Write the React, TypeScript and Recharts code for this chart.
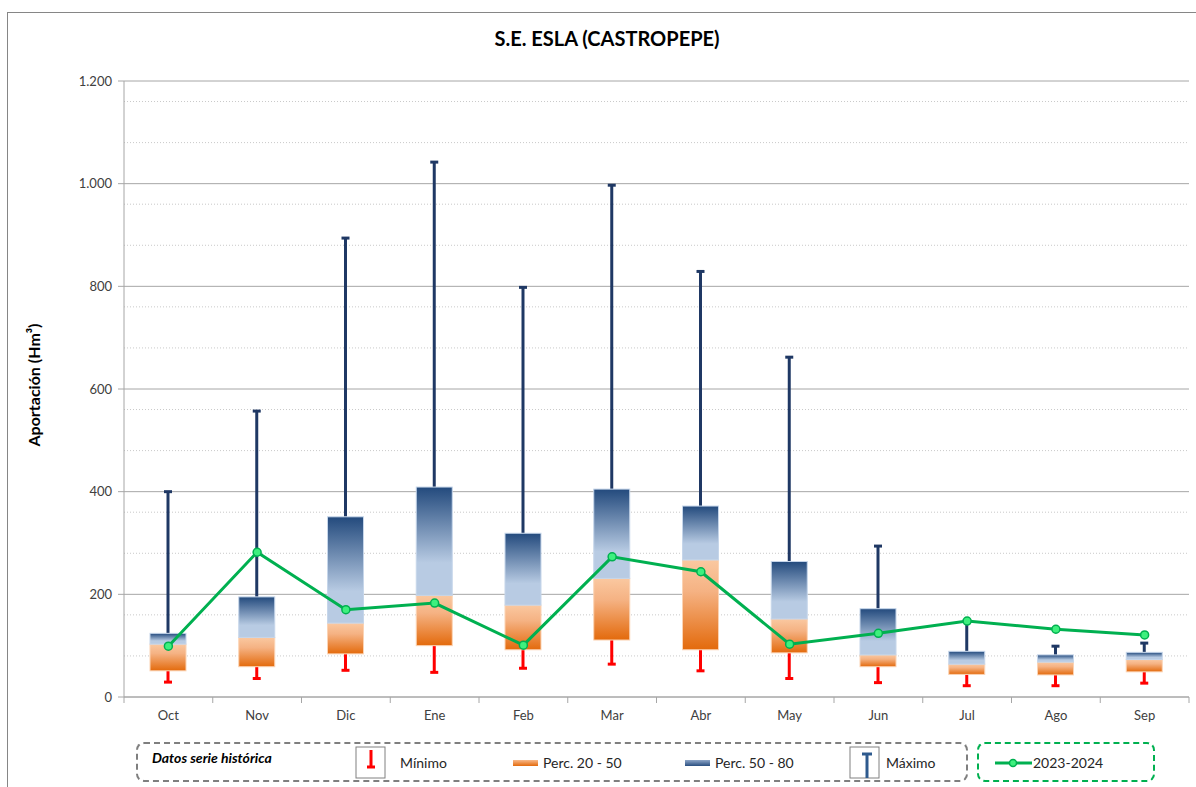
import React from 'react';
import {
  ComposedChart,
  Bar,
  Line,
  XAxis,
  YAxis,
  CartesianGrid,
} from 'recharts';

// Monthly inflow statistics (Hm³)
const months = ['Oct', 'Nov', 'Dic', 'Ene', 'Feb', 'Mar', 'Abr', 'May', 'Jun', 'Jul', 'Ago', 'Sep'];
const minimo = [29, 36, 52, 48, 56, 64, 51, 36, 28, 22, 22, 27];
const perc20 = [51, 59, 84, 100, 92, 111, 92, 86, 59, 44, 43, 49];
const perc50 = [103, 116, 144, 198, 179, 231, 267, 152, 82, 64, 68, 73];
const perc80 = [124, 195, 351, 409, 319, 405, 372, 264, 172, 89, 82, 87];
const maximo = [400, 557, 894, 1042, 798, 997, 829, 662, 294, 148, 99, 105];
const actual = [99, 282, 170, 183, 101, 273, 244, 103, 124, 148, 132, 121];

const majorTicks = [0, 200, 400, 600, 800, 1000, 1200];
const minorTicks = [
  40, 80, 120, 160, 240, 280, 320, 360, 440, 480, 520, 560,
  640, 680, 720, 760, 840, 880, 920, 960, 1040, 1080, 1120, 1160,
];

const FONT = 'Lato, "Open Sans", sans-serif';

interface Row {
  month: string;
  min: number;
  p20: number;
  p50: number;
  p80: number;
  max: number;
  base: number;
  low: number;
  high: number;
  cur: number;
}

const data: Row[] = months.map((m, i) => ({
  month: m,
  min: minimo[i],
  p20: perc20[i],
  p50: perc50[i],
  p80: perc80[i],
  max: maximo[i],
  base: perc20[i],
  low: perc50[i] - perc20[i],
  high: perc80[i] - perc50[i],
  cur: actual[i],
}));

const TICK_MARGIN = 14;

/** Month label plus the category boundary tick marks (Excel style) */
function MonthTick(props: any) {
  const { x, y, payload, index } = props;
  const half = payload && payload.offset ? payload.offset : 44.4;
  const axisY = y - TICK_MARGIN;
  return (
    <g>
      <line x1={x - half} x2={x - half} y1={axisY} y2={axisY + 6} stroke="#a6a6a6" />
      {index === months.length - 1 && (
        <line x1={x + half} x2={x + half} y1={axisY} y2={axisY + 6} stroke="#a6a6a6" />
      )}
      <text x={x} y={y} dy="0.71em" textAnchor="middle" fill="#404040" fontSize={13} fontFamily={FONT}>
        {payload.value}
      </text>
    </g>
  );
}

/** Invisible base segment, draws the red minimum whisker below the box */
function MinShape(props: any) {
  const { x, y, width, height, payload } = props;
  if (!height || !payload) return null;
  const ppu = height / payload.p20;
  const cx = x + width / 2;
  const yMin = y + height - payload.min * ppu;
  return (
    <g>
      <line x1={cx} x2={cx} y1={y} y2={yMin} stroke="#ff0000" strokeWidth={3} />
      <line x1={cx - 4} x2={cx + 4} y1={yMin} y2={yMin} stroke="#ff0000" strokeWidth={3} />
    </g>
  );
}

function LowShape(props: any) {
  const { x, y, width, height } = props;
  return <rect x={x} y={y} width={width} height={height} fill="url(#orangeGrad)" stroke="#fbd3b4" strokeWidth={1} />;
}

/** Upper segment of the box plus the navy maximum whisker */
function HighShape(props: any) {
  const { x, y, width, height, payload } = props;
  if (!payload) return null;
  const span = payload.p80 - payload.p50;
  const ppu = height / span;
  const cx = x + width / 2;
  const yMax = y - (payload.max - payload.p80) * ppu;
  return (
    <g>
      <line x1={cx} x2={cx} y1={y} y2={yMax} stroke="#1f3864" strokeWidth={3} />
      <line x1={cx - 4} x2={cx + 4} y1={yMax} y2={yMax} stroke="#1f3864" strokeWidth={3} />
      <rect x={x} y={y} width={width} height={height} fill="url(#blueGrad)" stroke="#c6d6ea" strokeWidth={1} />
    </g>
  );
}

const legendText: React.CSSProperties = {
  position: 'absolute',
  top: 754,
  fontSize: 14,
  color: '#262626',
  fontFamily: FONT,
  whiteSpace: 'nowrap',
};

export default function App() {
  return (
    <div style={{ position: 'fixed', left: 0, top: 0, width: 1196, height: 787, overflow: 'hidden', background: '#fff' }}>
      <div
        style={{
          position: 'absolute',
          left: 7,
          top: 12,
          width: 1220,
          height: 820,
          border: '1px solid #868686',
        }}
      />
      <div
        style={{
          position: 'absolute',
          left: 607,
          top: 26,
          transform: 'translateX(-50%)',
          fontFamily: FONT,
          fontWeight: 700,
          fontSize: 20,
          color: '#000',
          whiteSpace: 'nowrap',
        }}
      >
        S.E. ESLA (CASTROPEPE)
      </div>
      <div
        style={{
          position: 'absolute',
          left: 33,
          top: 385,
          transform: 'translate(-50%, -50%) rotate(-90deg)',
          fontFamily: FONT,
          fontWeight: 700,
          fontSize: 16,
          color: '#000',
          whiteSpace: 'nowrap',
        }}
      >
        Aportación (Hm³)
      </div>

      <div style={{ position: 'absolute', left: 0, top: 0 }}>
        <ComposedChart
          width={1196}
          height={787}
          data={data}
          margin={{ top: 81, right: 7, left: 64, bottom: 60 }}
        >
          <defs>
            <linearGradient id="orangeGrad" x1="0" y1="0" x2="0" y2="1">
              <stop offset="0%" stopColor="#fac8a0" />
              <stop offset="35%" stopColor="#f5b283" />
              <stop offset="100%" stopColor="#e36a0c" />
            </linearGradient>
            <linearGradient id="blueGrad" x1="0" y1="0" x2="0" y2="1">
              <stop offset="0%" stopColor="#234a7d" />
              <stop offset="70%" stopColor="#b8cbe3" />
              <stop offset="100%" stopColor="#b8cbe3" />
            </linearGradient>
          </defs>

          <CartesianGrid vertical={false} horizontalValues={minorTicks} stroke="#c9c9c9" strokeDasharray="1 2" />
          <CartesianGrid vertical={false} stroke="#a6a6a6" />

          <XAxis
            dataKey="month"
            stroke="#a6a6a6"
            tickLine={false}
            tickSize={0}
            tickMargin={TICK_MARGIN}
            height={30}
            tick={<MonthTick />}
          />
          <YAxis
            domain={[0, 1200]}
            ticks={majorTicks}
            width={60}
            stroke="#a6a6a6"
            tickSize={6}
            tickMargin={6}
            tick={{ fill: '#404040', fontSize: 13, fontFamily: FONT }}
            tickFormatter={(v: number) => v.toLocaleString('de-DE')}
          />

          <Bar dataKey="base" stackId="box" barSize={36} shape={<MinShape />} isAnimationActive={false} />
          <Bar dataKey="low" stackId="box" barSize={36} shape={<LowShape />} isAnimationActive={false} />
          <Bar dataKey="high" stackId="box" barSize={36} shape={<HighShape />} isAnimationActive={false} />

          <Line
            dataKey="cur"
            stroke="#00b050"
            strokeWidth={3}
            dot={{ r: 4, fill: '#3ef07e', stroke: '#00b050', strokeWidth: 1.5 }}
            isAnimationActive={false}
          />
        </ComposedChart>
      </div>

      {/* Legend */}
      <div
        style={{
          position: 'absolute',
          left: 136,
          top: 742,
          width: 828,
          height: 36,
          border: '2px dashed #7f7f7f',
          borderRadius: 8,
        }}
      />
      <div
        style={{
          position: 'absolute',
          left: 977,
          top: 742,
          width: 174,
          height: 36,
          border: '2px dashed #00b050',
          borderRadius: 8,
        }}
      />
      <div style={{ ...legendText, left: 152, top: 749, fontWeight: 700, fontStyle: 'italic', color: '#000' }}>
        Datos serie histórica
      </div>

      <svg style={{ position: 'absolute', left: 355, top: 746 }} width={32} height={34}>
        <rect x={1} y={1} width={29} height={31} fill="#fff" stroke="#808080" strokeWidth={1} />
        <line x1={16} x2={16} y1={4} y2={21} stroke="#ff0000" strokeWidth={3} />
        <line x1={12} x2={20} y1={21} y2={21} stroke="#ff0000" strokeWidth={3} />
      </svg>
      <div style={{ ...legendText, left: 400 }}>Mínimo</div>

      <div
        style={{
          position: 'absolute',
          left: 513,
          top: 760,
          width: 25,
          height: 6,
          background: 'linear-gradient(to bottom, #f8b98a, #e36a0c)',
        }}
      />
      <div style={{ ...legendText, left: 543 }}>Perc. 20 - 50</div>

      <div
        style={{
          position: 'absolute',
          left: 685,
          top: 760,
          width: 25,
          height: 6,
          background: 'linear-gradient(to bottom, #8ea6c8, #2a4f80)',
        }}
      />
      <div style={{ ...legendText, left: 715 }}>Perc. 50 - 80</div>

      <svg style={{ position: 'absolute', left: 849, top: 746 }} width={32} height={34}>
        <rect x={1} y={1} width={29} height={31} fill="#fff" stroke="#808080" strokeWidth={1} />
        <line x1={18} x2={18} y1={8} y2={32} stroke="#2e5a8e" strokeWidth={3} />
        <line x1={13} x2={23} y1={8} y2={8} stroke="#2e5a8e" strokeWidth={3} />
      </svg>
      <div style={{ ...legendText, left: 886 }}>Máximo</div>

      <svg style={{ position: 'absolute', left: 994, top: 757 }} width={40} height={12}>
        <line x1={1} x2={38} y1={6} y2={6} stroke="#00b050" strokeWidth={3} />
        <circle cx={19} cy={6} r={3.5} fill="#3ef07e" stroke="#00b050" strokeWidth={1.5} />
      </svg>
      <div style={{ ...legendText, left: 1033 }}>2023-2024</div>
    </div>
  );
}
